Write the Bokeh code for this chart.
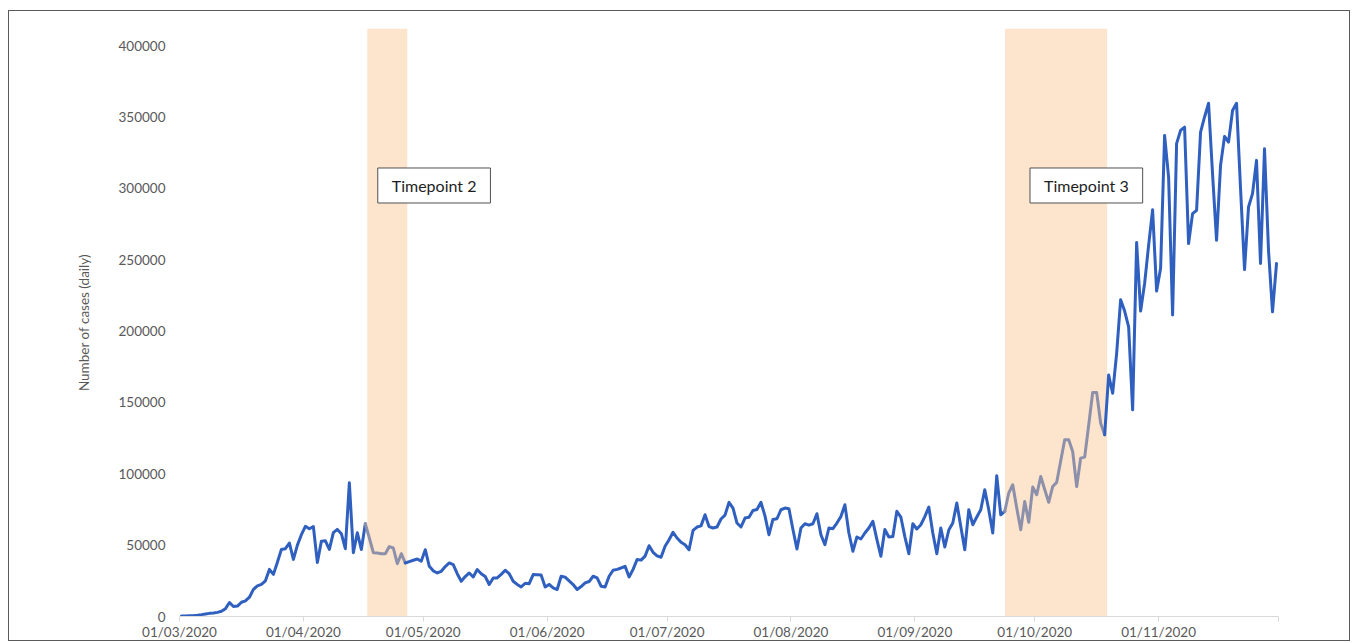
import pandas as pd
from bokeh.plotting import figure
from bokeh.models import Range1d, FixedTicker, DatetimeTickFormatter, NumeralTickFormatter, Label
from bokeh.embed import file_html
from bokeh.resources import INLINE

# Daily cases, 01/03/2020 .. 30/11/2020
mar = [300, 400, 500, 600, 900, 1300, 1800, 2200, 2500, 2900, 3700, 5500, 9800, 7000, 7300,
       10000, 11000, 13500, 19000, 21500, 22500, 25000, 33000, 29500, 38000, 47000, 47500,
       51500, 40000, 50000, 57300]
apr = [63200, 61500, 63000, 37800, 52700, 53000, 47000, 58800, 61000, 58000,
       47500, 93700, 44700, 58700, 47000, 65000, 55000, 44700, 44500, 44000,
       44000, 49000, 48000, 37000, 44000, 37500, 38500, 39400, 40300, 38800]
may = [46800, 35200, 32000, 30500, 31700, 35000, 37500, 36300, 30000, 24700,
       28000, 30500, 27700, 32900, 30000, 28000, 22400, 27000, 27000, 29500,
       32400, 30000, 24700, 22500, 20700, 23300, 23000, 29400, 29200, 29000, 20700]
jun = [22500, 20000, 18900, 28200, 27600, 25000, 22400, 18900, 21000, 23500,
       24500, 28200, 27000, 21200, 20700, 28200, 32400, 33000, 34000, 35200,
       27700, 33000, 39900, 39500, 42300, 49600, 45000, 42500, 41500, 49200]
jul = [53800, 59000, 55000, 52000, 50300, 46800, 60300, 62700, 63500, 71300,
       63000, 62000, 62700, 68300, 71000, 80000, 76000, 65500, 62700, 69000,
       69500, 74300, 75000, 80000, 70500, 57300, 68000, 68500, 74800, 76000, 75500]
aug = [61000, 47300, 62000, 65000, 64000, 65000, 72000, 57300, 50300, 62000,
       61500, 65500, 70000, 78300, 58500, 45700, 55700, 54300, 58500, 62000,
       66700, 54000, 42200, 61000, 55700, 56000, 73700, 69700, 56000, 44000, 65000]
sep = [61300, 64300, 70000, 76700, 58500, 44000, 62000, 48700, 60600, 65500,
       79500, 63000, 46800, 74800, 64300, 69700, 74800, 88800, 74800, 58500,
       98600, 71300, 73600, 86500, 92300, 76000, 60800, 80600, 66000, 90700]
oct_ = [85300, 98100, 89000, 80000, 91100, 94000, 109000, 123800, 123800, 115600,
        91100, 111000, 111700, 134000, 156900, 156900, 135400, 127300, 169200, 156400,
        184400, 222000, 214000, 203000, 144800, 262000, 214000, 233400, 260000, 285000, 228000]
nov = [244000, 337100, 307900, 211200, 331300, 340600, 342900, 261300, 282300, 284600,
       339400, 350000, 359600, 310000, 263600, 316100, 336400, 332400, 354500, 359600,
       300000, 243100, 286900, 296300, 319600, 247300, 327700, 256600, 213500, 247300]

cases = mar + apr + may + jun + jul + aug + sep + oct_ + nov
start_date = "2020-03-01"

# grey stretches of the line (first and last grey point)
grey_spans = [("2020-04-16", "2020-04-26"), ("2020-09-23", "2020-10-18")]
# shaded timepoint windows
shade_left = ["2020-04-17 00:00", "2020-09-23 14:00"]
shade_right = ["2020-04-27 00:00", "2020-10-19 03:00"]
tp_labels = ["Timepoint 2", "Timepoint 3"]
tp_label_x = ["2020-05-03 17:00", "2020-10-13 22:00"]
tp_label_y = [302000, 302000]

month_ticks = pd.date_range("2020-03-01", "2020-11-01", freq="MS")
axis_end = pd.Timestamp("2020-12-01")
y_ticks = [0, 50000, 100000, 150000, 200000, 250000, 300000, 350000, 400000]

BLUE = "#2F5FBF"
GREY = "#8D90AA"
PEACH = "#FDE5CD"
TXT = "#595959"
FONT = "Lato"

dates = pd.date_range(start_date, periods=len(cases), freq="D") + pd.Timedelta(hours=12)
t0 = pd.Timestamp(start_date)


def ms(t):
    return pd.Timestamp(t).value / 1e6


p = figure(width=1342, height=631, output_backend="svg", toolbar_location=None,
           x_axis_type="datetime",
           x_range=Range1d(ms(t0), ms(axis_end)), y_range=Range1d(0, 412000),
           min_border_left=170, min_border_right=73, min_border_top=17, min_border_bottom=25)
p.styles = {"border": "1px solid #5a5a5a", "margin-left": "8px", "margin-top": "10px"}
p.outline_line_color = None
p.xgrid.visible = False
p.ygrid.visible = False

# shaded windows
p.quad(left=[pd.Timestamp(t) for t in shade_left], right=[pd.Timestamp(t) for t in shade_right],
       bottom=0, top=412000, fill_color=PEACH, line_color=None)

# line segments
idx = [0]
for a, b in grey_spans:
    idx += [(pd.Timestamp(a) - t0).days, (pd.Timestamp(b) - t0).days]
idx.append(len(cases) - 1)
for k in range(len(idx) - 1):
    i, j = idx[k], idx[k + 1]
    color = BLUE if k % 2 == 0 else GREY
    p.line(dates[i:j + 1], cases[i:j + 1], line_color=color, line_width=3,
           line_join="round", line_cap="round")

# timepoint labels
for txt, lx, ly in zip(tp_labels, tp_label_x, tp_label_y):
    p.add_layout(Label(x=ms(lx), y=ly, text=txt, text_align="center", text_baseline="middle",
                       text_font=FONT, text_font_size="16px", text_color="#1e1e1e",
                       background_fill_color="white", border_line_color="#505050",
                       border_line_width=1,
                       padding=dict(left=14, right=14, top=8, bottom=8)))

# x axis
xa = p.xaxis[0]
xa.ticker = FixedTicker(ticks=[ms(t) for t in month_ticks], minor_ticks=[ms(axis_end)])
xa.formatter = DatetimeTickFormatter(days="%d/%m/%Y", months="%d/%m/%Y", years="%d/%m/%Y")
xa.axis_line_color = "#D9D9D9"
xa.major_tick_line_color = "#D9D9D9"
xa.minor_tick_line_color = "#D9D9D9"
xa.major_tick_in = 0
xa.major_tick_out = 5
xa.minor_tick_in = 0
xa.minor_tick_out = 5
xa.major_label_standoff = 2
xa.major_label_text_font = FONT
xa.major_label_text_font_size = "13.5px"
xa.major_label_text_color = TXT

# y axis
ya = p.yaxis[0]
ya.ticker = FixedTicker(ticks=y_ticks)
ya.formatter = NumeralTickFormatter(format="0")
ya.axis_line_color = None
ya.major_tick_line_color = None
ya.minor_tick_line_color = None
ya.major_tick_in = 0
ya.major_tick_out = 0
ya.major_label_standoff = 14
ya.major_label_text_font = FONT
ya.major_label_text_font_size = "13.5px"
ya.major_label_text_color = TXT
ya.axis_label = "Number of cases (daily)"
ya.axis_label_text_font = FONT
ya.axis_label_text_font_size = "13.5px"
ya.axis_label_text_font_style = "normal"
ya.axis_label_text_color = TXT
ya.axis_label_standoff = 24

open("out.html", "w").write(file_html(p, INLINE))
